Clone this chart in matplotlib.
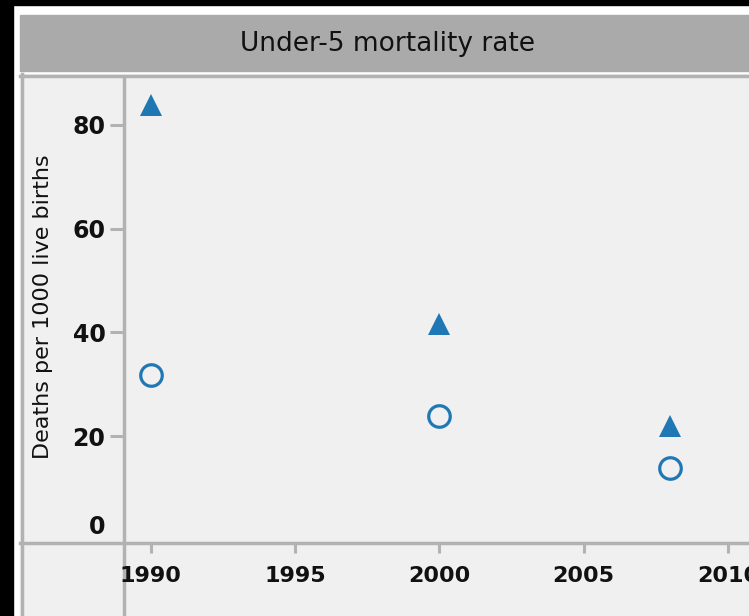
import matplotlib
matplotlib.use('Agg')
import matplotlib.pyplot as plt
from matplotlib.patches import Rectangle
from matplotlib.lines import Line2D
import matplotlib.transforms as mtransforms

W = 749
H = 616

years = [1990, 2000, 2008]
series_a = [83.8, 41.7, 21.9]   # filled triangles
series_b = [31.8, 23.8, 13.9]   # open circles
xticks = [1990, 1995, 2000, 2005, 2010]
yticks = [0, 20, 40, 60, 80]

title = 'Under-5 mortality rate'
ylabel = 'Deaths per 1000 live births'

blue = '#1f77b4'
frame_gray = '#b2b2b2'
bar_gray = '#aaaaaa'
bg = '#f0f0f0'


def fx(px):
    return px / W


def fy(py):
    # py measured from the top of the picture
    return 1 - py / H


fig = plt.figure(figsize=(W / 100, H / 100), dpi=100, facecolor='white')

# black strips at the left and top edge
fig.patches.append(Rectangle((0, fy(5)), 1, 1 - fy(5), transform=fig.transFigure,
                             color='black', zorder=-2))
fig.patches.append(Rectangle((0, 0), fx(13), 1, transform=fig.transFigure,
                             color='black', zorder=-2))

# title bar
fig.patches.append(Rectangle((fx(20), fy(71)), 1 - fx(20), fy(15) - fy(71),
                             transform=fig.transFigure, color=bar_gray, zorder=-2))
fig.text(fx(388), fy(44), title, ha='center', va='center', fontsize=19, color='#111111')

# panel background and frame
fig.patches.append(Rectangle((fx(20), 0), 1 - fx(20), fy(74), transform=fig.transFigure,
                             color=bg, zorder=-2))
frame = [
    ([fx(20), 1], [fy(75.5), fy(75.5)]),
    ([fx(21.5), fx(21.5)], [0, fy(74)]),
    # axis lines running across the whole panel
    ([fx(123.5), fx(123.5)], [0, fy(77)]),
    ([fx(20), 1], [fy(542.5), fy(542.5)]),
]
for xs, ys in frame:
    fig.lines.append(Line2D(xs, ys, transform=fig.transFigure, color=frame_gray,
                            lw=2.5, zorder=-1))

# axes placed so the data lands where it does in the picture
ax = fig.add_axes([fx(123.5), fy(542.5), 1 - fx(123.5), fy(77) - fy(542.5)])
ax.set_facecolor('none')
for s in ax.spines.values():
    s.set_visible(False)

ax.plot(years, series_a, linestyle='none', marker='^', markersize=16.5,
        color=blue, markeredgewidth=0, clip_on=False)
ax.plot(years, series_b, linestyle='none', marker='o', markersize=15.5,
        markerfacecolor='none', markeredgecolor=blue, markeredgewidth=2.3, clip_on=False)

ax.set_xlim(1989.05, 2010.73)
ax.set_ylim(-0.5, 89.2)

ax.set_xticks(xticks)
ax.set_yticks(yticks)
ax.tick_params(axis='x', direction='out', length=7, width=2.2, color=frame_gray,
               pad=10, labelsize=16, labelcolor='#111111')
ax.tick_params(axis='y', direction='out', length=10, width=2.2, color=frame_gray,
               pad=3, labelsize=17, labelcolor='#111111')
for lab in ax.get_xticklabels() + ax.get_yticklabels():
    lab.set_fontweight('bold')

# the 0 tick is hidden under the x axis line, its label sits a bit higher
ax.yaxis.get_major_ticks()[0].tick1line.set_visible(False)
lab0 = ax.get_yticklabels()[0]
lab0.set_transform(lab0.get_transform() + mtransforms.ScaledTranslation(0, 15 / 100, fig.dpi_scale_trans))

fig.text(fx(43), fy(307), ylabel, rotation=90, ha='center', va='center',
         fontsize=16, color='#111111')

fig.savefig('out.png', dpi=100, facecolor='white')
